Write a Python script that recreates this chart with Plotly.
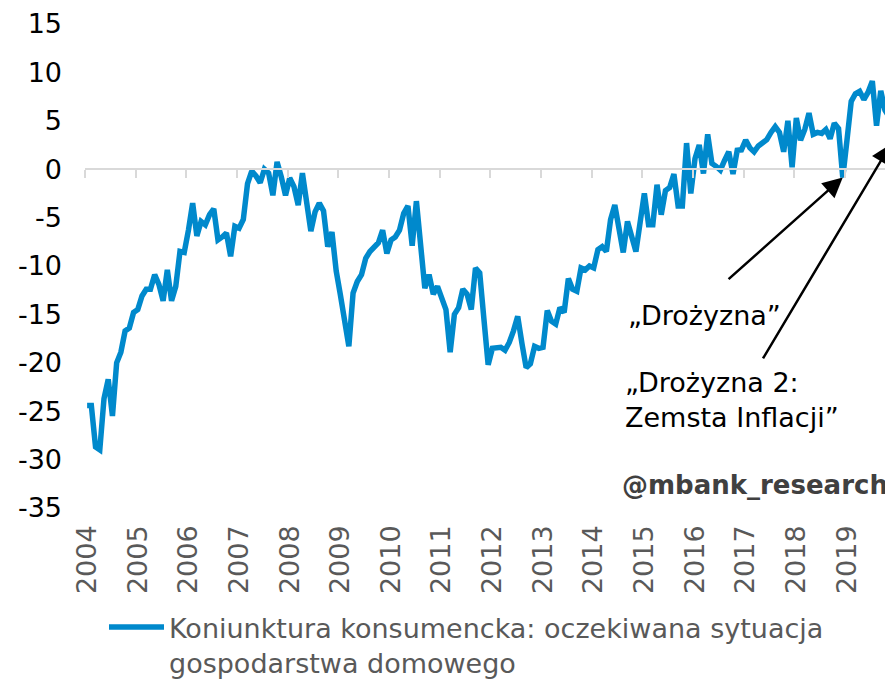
import plotly.graph_objects as go

# ---------------- data ----------------
years = [str(y) for y in range(2004, 2020)]
months_per_year = 12

values_2004 = [-24.4, -24.4, -28.7, -29.0, -23.7, -21.7, -25.5, -20.0, -18.9, -16.7, -16.4, -14.8]
values_2005 = [-14.5, -13.1, -12.4, -12.4, -10.9, -11.9, -13.6, -10.4, -13.6, -12.1, -8.5, -8.6]
values_2006 = [-6.3, -3.5, -6.9, -5.4, -5.75, -4.7, -4.1, -7.3, -7.0, -6.6, -9.0, -5.9]
values_2007 = [-6.1, -5.2, -1.5, -0.2, -0.7, -1.4, 0.0, -0.4, -2.7, 0.75, -0.8, -2.7]
values_2008 = [-0.9, -1.8, -3.7, -0.4, -3.4, -6.4, -4.4, -3.5, -4.3, -8.0, -6.5, -10.5]
values_2009 = [-13.0, -15.6, -18.3, -12.8, -11.6, -10.9, -9.2, -8.5, -8.0, -7.6, -6.3, -8.7]
values_2010 = [-7.3, -7.0, -6.3, -4.55, -3.8, -7.9, -3.3, -8.0, -12.3, -10.9, -12.9, -12.1]
values_2011 = [-13.5, -14.5, -18.9, -15.0, -14.3, -12.4, -12.9, -14.5, -10.2, -10.7, -15.5, -20.2]
values_2012 = [-18.5, -18.4, -18.4, -18.7, -17.9, -16.7, -15.2, -18.0, -20.5, -20.1, -18.3, -18.5]
values_2013 = [-18.4, -14.6, -15.7, -16.0, -14.3, -14.8, -11.3, -12.4, -12.6, -10.2, -10.4, -10.0]
values_2014 = [-10.2, -8.3, -8.0, -8.5, -5.2, -3.7, -6.5, -8.6, -5.4, -7.0, -8.5, -5.5]
values_2015 = [-2.5, -5.75, -5.75, -1.6, -4.7, -2.2, -1.9, -0.5, -3.8, -3.8, 2.7, -2.5]
values_2016 = [1.1, 2.5, -0.45, 3.6, 0.6, 0.3, -0.1, 0.9, 1.8, -0.5, 1.95, 2.0]
values_2017 = [3.0, 2.2, 1.8, 2.4, 2.8, 3.05, 3.8, 4.4, 3.8, 1.8, 5.0, 0.2]
values_2018 = [5.3, 3.0, 4.1, 5.8, 3.6, 3.8, 3.7, 4.1, 3.15, 4.75, 4.2, -0.85]
values_2019 = [3.0, 7.0, 7.8, 8.05, 7.2, 7.95, 9.1, 4.5, 8.1, 6.1, 5.4, 2.5]

values = (values_2004 + values_2005 + values_2006 + values_2007 + values_2008 +
          values_2009 + values_2010 + values_2011 + values_2012 + values_2013 +
          values_2014 + values_2015 + values_2016 + values_2017 + values_2018 +
          values_2019)
month_index = list(range(len(values)))

y_ticks = [15, 10, 5, 0, -5, -10, -15, -20, -25, -30, -35]
y_tick_labels = [str(v) for v in y_ticks]
series_name = "Koniunktura konsumencka: oczekiwana sytuacja<br>gospodarstwa domowego"
label_1 = "„Drożyzna”"
label_2 = "„Drożyzna 2:<br>Zemsta Inflacji”"
watermark = "@mbank_research"
idx_drozyzna_1 = 179
idx_drozyzna_2 = 190

# ---------------- styling ----------------
FONT = "DejaVu Sans"
BLUE = "#0089CC"
GRID = "#D9D9D9"
GREY_TXT = "#595959"
FS = 27

# the page body adds an 8px offset; plot area spans page x 85..893, y 24..508
PLOT_L, PLOT_R, PLOT_T, PLOT_B = 85, 893, 24, 508
PW, PH = PLOT_R - PLOT_L, PLOT_B - PLOT_T


def px(xp):
    return (xp - PLOT_L) / PW


def py(yp):
    return (PLOT_B - yp) / PH


year_starts = [i * months_per_year for i in range(len(years))]
year_bounds = [i * months_per_year - 0.5 for i in range(len(years) + 1)]
x_range = [-0.5, 190.9]

fig = go.Figure()
fig.add_trace(go.Scatter(
    x=month_index, y=values, mode="lines", name=series_name,
    line=dict(color=BLUE, width=5.5), xaxis="x", yaxis="y",
))
# invisible helper trace so the label axis renders
fig.add_trace(go.Scatter(
    x=[month_index[0]], y=[None], mode="lines", xaxis="x2", yaxis="y",
    showlegend=False, hoverinfo="skip",
))

fig.update_layout(
    width=885, height=672,
    paper_bgcolor="white", plot_bgcolor="white",
    margin=dict(l=PLOT_L - 8, r=0, t=PLOT_T - 8, b=680 - PLOT_B, autoexpand=False),
    font=dict(family=FONT, size=FS, color="black"),
    showlegend=True,
    xaxis=dict(
        range=x_range, anchor="free", position=35 / 50,
        showline=True, linecolor=GRID, linewidth=2,
        ticks="outside", tickvals=year_bounds, ticklen=8, tickwidth=2, tickcolor=GRID,
        showticklabels=False, showgrid=False, zeroline=False, automargin=False,
    ),
    xaxis2=dict(
        range=x_range, overlaying="x", anchor="y", side="bottom",
        tickvals=year_starts, ticktext=years, tickangle=-90,
        tickfont=dict(family=FONT, size=FS, color=GREY_TXT),
        ticks="", showline=False, showgrid=False, zeroline=False,
        ticklabelstandoff=11, automargin=False, ticklabeloverflow="allow",
    ),
    yaxis=dict(
        range=[-35, 15], tickvals=y_ticks, ticktext=y_tick_labels,
        tickfont=dict(family=FONT, size=FS, color="black"),
        showgrid=False, zeroline=False, showline=False, ticks="",
        ticklabelstandoff=22, automargin=False, ticklabeloverflow="allow",
    ),
    legend=dict(
        orientation="h", x=px(104), xanchor="left",
        y=py(603), yanchor="top",
        font=dict(family=FONT, size=FS, color=GREY_TXT),
        valign="top", itemwidth=55, bgcolor="rgba(0,0,0,0)",
    ),
)

# arrows
fig.add_annotation(
    x=idx_drozyzna_1, y=values[idx_drozyzna_1], ax=151.6, ay=-11.5,
    xref="x", yref="y", axref="x", ayref="y", text="",
    showarrow=True, arrowhead=2, arrowsize=1.6, arrowwidth=2.5,
    arrowcolor="black", standoff=0,
)
fig.add_annotation(
    x=idx_drozyzna_2 + 0.4, y=values[idx_drozyzna_2] - 2.8, ax=159.9, ay=-19.7,
    xref="x", yref="y", axref="x", ayref="y", text="",
    showarrow=True, arrowhead=2, arrowsize=1.6, arrowwidth=2.5,
    arrowcolor="black", standoff=0,
)
# labels
fig.add_annotation(
    x=px(626), y=py(315), xref="paper", yref="paper",
    text=label_1, showarrow=False, xanchor="left", yanchor="middle",
    font=dict(family=FONT, size=FS, color="black"),
)
fig.add_annotation(
    x=px(623), y=py(400), xref="paper", yref="paper",
    text=label_2, showarrow=False, xanchor="left", yanchor="middle", align="left",
    font=dict(family=FONT, size=FS, color="black"),
)
fig.add_annotation(
    x=px(890), y=py(485), xref="paper", yref="paper",
    text="<b>" + watermark + "</b>", showarrow=False, xanchor="right", yanchor="middle",
    font=dict(family=FONT, size=26, color="#404040"),
)

fig.write_html("out.html")
